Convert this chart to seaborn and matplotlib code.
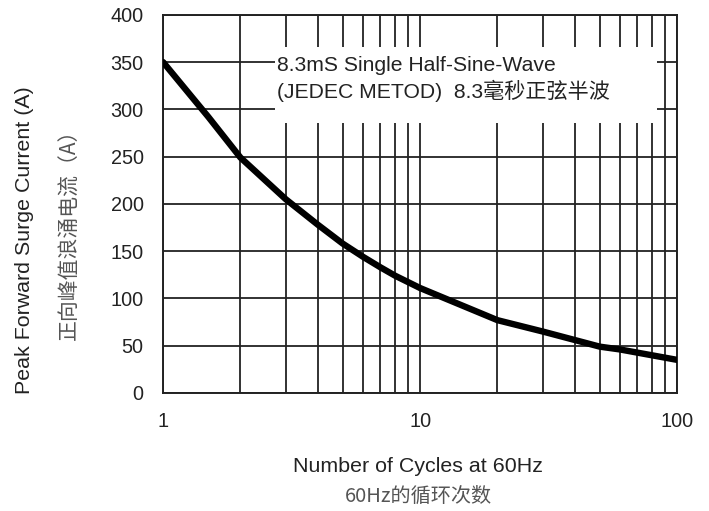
import numpy as np
import pandas as pd
import matplotlib
matplotlib.use("Agg")
import matplotlib.pyplot as plt
from matplotlib.patches import Rectangle
import seaborn as sns

# values
cycles = [1, 1.5, 2, 3, 4, 5, 6, 7, 8, 10, 20, 30, 40, 50, 60, 100]
current = [350, 292, 249, 205, 178, 158, 144, 133, 124, 111, 77, 65, 56, 49, 46, 35]

x_ticks = [1, 10, 100]
x_tick_labels = ["1", "10", "100"]
y_ticks = [0, 50, 100, 150, 200, 250, 300, 350, 400]

xlabel_en = "Number of Cycles at 60Hz"
xlabel_cn = "60Hz的循环次数"
ylabel_en = "Peak Forward Surge Current (A)"
ylabel_cn = "正向峰值浪涌电流（A）"
note = "8.3mS Single Half-Sine-Wave\n(JEDEC METOD)  8.3毫秒正弦半波"

sns.set_theme(style="white")
plt.rcParams["font.family"] = ["Liberation Sans", "Noto Sans CJK SC"]

df = pd.DataFrame({"cycles": cycles, "current": current})

fig = plt.figure(figsize=(7.09, 5.11), dpi=100)
ax = fig.add_axes([0.230, 0.231, 0.725, 0.740])

ax.set_xscale("log")
ax.set_xlim(1, 100)
ax.set_ylim(0, 400)
ax.set_xticks(x_ticks)
ax.set_xticklabels(x_tick_labels)
ax.set_yticks(y_ticks)

# log grid: majors and minors, all the same dark line
ax.xaxis.set_minor_locator(matplotlib.ticker.LogLocator(base=10, subs=np.arange(2, 10)))
ax.xaxis.set_minor_formatter(matplotlib.ticker.NullFormatter())
ax.grid(True, which="both", axis="x", color="#222222", linewidth=1.3)
ax.grid(True, which="major", axis="y", color="#222222", linewidth=1.3)
ax.set_axisbelow(True)

for s in ax.spines.values():
    s.set_color("#222222")
    s.set_linewidth(1.4)

ax.tick_params(axis="both", which="both", length=0, labelsize=14.3, colors="#222222")
ax.tick_params(axis="y", pad=14)
ax.tick_params(axis="x", pad=14)

sns.lineplot(data=df, x="cycles", y="current", color="black", linewidth=4.6, ax=ax, zorder=3)
ax.set_xlabel("")
ax.set_ylabel("")

# white note box covering the grid
ax.add_patch(Rectangle((0.218, 0.714), 0.743, 0.201, transform=ax.transAxes,
                       facecolor="white", edgecolor="none", zorder=1.5))
ax.text(0.221, 0.83, note, transform=ax.transAxes, fontsize=15.2, color="#222222",
        va="center", ha="left", linespacing=1.25, zorder=2)

fig.text(418 / 709, 1 - 466 / 511, xlabel_en, ha="center", va="center", fontsize=15.4, color="#222222")
fig.text(418 / 709, 1 - 496 / 511, xlabel_cn, ha="center", va="center", fontsize=14.5,
         color="#555555", family=["Noto Sans CJK SC", "DejaVu Sans"])
fig.text(25 / 709, 1 - 240 / 511, ylabel_en, ha="center", va="center", rotation=90,
         fontsize=15.4, color="#222222")
fig.text(70 / 709, 1 - 229 / 511, ylabel_cn, ha="center", va="center", rotation=90,
         fontsize=15, color="#555555", family=["Noto Sans CJK SC", "DejaVu Sans"])

fig.savefig("out.png", dpi=100, facecolor="white")
